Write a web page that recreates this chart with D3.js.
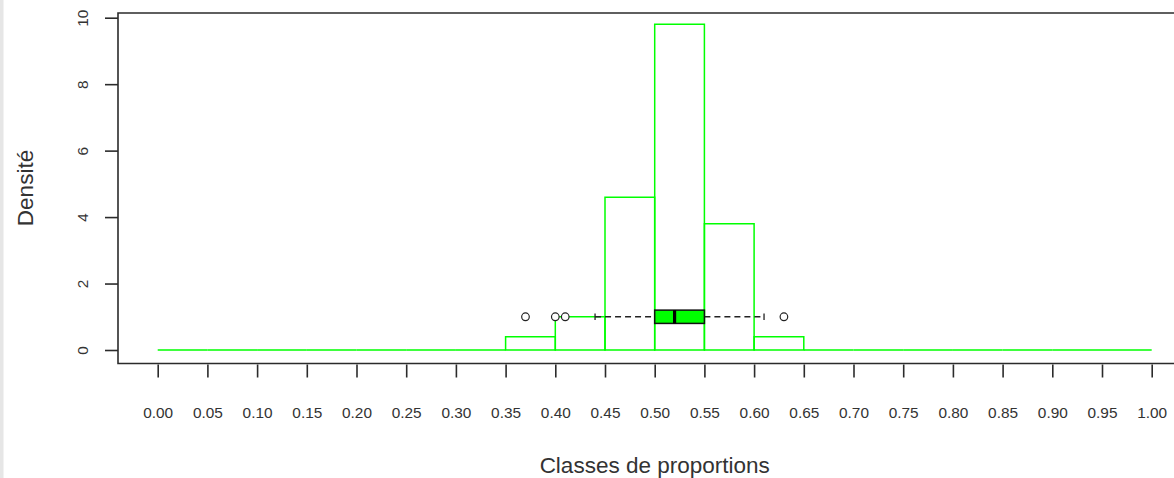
<!DOCTYPE html>
<html>
<head>
<meta charset="utf-8">
<script src="https://cdn.jsdelivr.net/npm/d3@7"></script>
<style>
  html, body { margin: 0; padding: 0; background: #ffffff; }
  svg { display: block; }
  text { font-family: "Liberation Sans", Arial, sans-serif; fill: #333; }
</style>
</head>
<body>
<svg id="chart" width="1174" height="478"></svg>
<script>
// Class limits (proportions) and their axis labels
const classBreaks = [0.00, 0.05, 0.10, 0.15, 0.20, 0.25, 0.30, 0.35, 0.40, 0.45, 0.50,
                     0.55, 0.60, 0.65, 0.70, 0.75, 0.80, 0.85, 0.90, 0.95, 1.00];
const breakLabels = ["0.00", "0.05", "0.10", "0.15", "0.20", "0.25", "0.30", "0.35", "0.40", "0.45", "0.50",
                     "0.55", "0.60", "0.65", "0.70", "0.75", "0.80", "0.85", "0.90", "0.95", "1.00"];
// Density of each class (20 classes)
const densities = [0, 0, 0, 0, 0, 0, 0, 0.4, 1.0, 4.6, 9.8, 3.8, 0.4, 0, 0, 0, 0, 0, 0, 0];
// Density axis ticks
const densityTicks = [0, 2, 4, 6, 8, 10];
// Boxplot summary: lower whisker, Q1, median, Q3, upper whisker
const boxStats = [0.44, 0.50, 0.52, 0.55, 0.61];
const outliers = [0.37, 0.40, 0.41, 0.63];
const boxAt = 1;          // vertical position of the boxplot, in density units
const boxHalf = 0.2;      // half thickness of the box, in density units

const svg = d3.select("#chart");
const W = 1174, H = 478;

const x = d3.scaleLinear().domain([0, 1]).range([157.7, 1151.7]);
const y = d3.scaleLinear().domain([0, 10]).range([350, 17.7]);

const frame = { left: 118, top: 13, bottom: 363.5 };

// narrow grey strip on the left edge
svg.append("rect").attr("x", 0).attr("y", 0).attr("width", 3.5).attr("height", H).attr("fill", "#e6e6e6");

// plot frame (open on the right, beyond the page)
svg.append("path")
  .attr("d", `M${W + 5},${frame.top} H${frame.left} V${frame.bottom} H${W + 5}`)
  .attr("fill", "none").attr("stroke", "#2b2b2b").attr("stroke-width", 1.6);

// histogram bars (outline only)
const bins = densities.map((d, i) => ({ x0: classBreaks[i], x1: classBreaks[i + 1], d }));
svg.append("g").selectAll("path").data(bins).join("path")
  .attr("d", b => `M${x(b.x0)},${y(0)} V${y(b.d)} H${x(b.x1)} V${y(0)} Z`)
  .attr("fill", "none").attr("stroke", "#00ff00").attr("stroke-width", 1.5);

// x axis
const xAxis = d3.axisBottom(x)
  .tickValues(classBreaks)
  .tickFormat((d, i) => breakLabels[i])
  .tickSize(13).tickPadding(0);
const gx = svg.append("g").attr("transform", `translate(0,${frame.bottom + 1})`).call(xAxis);
gx.select(".domain").remove();
gx.selectAll(".tick line").attr("stroke", "#2b2b2b").attr("stroke-width", 1.6);
gx.selectAll(".tick text").attr("y", 53.5).attr("dy", null)
  .attr("dominant-baseline", "alphabetic")
  .style("font-size", "15.4px").style("font-family", "'Liberation Sans', Arial, sans-serif").attr("fill", "#333");

// y axis with rotated labels
const yAxis = d3.axisLeft(y).tickValues(densityTicks).tickSize(13).tickPadding(0);
const gy = svg.append("g").attr("transform", `translate(${frame.left},0)`).call(yAxis);
gy.select(".domain").remove();
gy.selectAll(".tick line").attr("stroke", "#2b2b2b").attr("stroke-width", 1.6);
gy.selectAll(".tick text")
  .attr("x", null).attr("dy", null)
  .attr("transform", "translate(-30,0) rotate(-90)")
  .attr("text-anchor", "middle").attr("dominant-baseline", "alphabetic")
  .style("font-size", "15.4px").style("font-family", "'Liberation Sans', Arial, sans-serif").attr("fill", "#333");

// axis titles
svg.append("text")
  .attr("x", x(0.5)).attr("y", 473)
  .attr("text-anchor", "middle")
  .style("font-size", "22.5px")
  .text("Classes de proportions");
svg.append("text")
  .attr("transform", `translate(32.5,188) rotate(-90)`)
  .attr("text-anchor", "middle")
  .style("font-size", "22.5px")
  .text("Densité");

// horizontal boxplot
const gb = svg.append("g");
const [wLo, q1, med, q3, wHi] = boxStats;
const yc = y(boxAt), yTop = y(boxAt + boxHalf), yBot = y(boxAt - boxHalf);
const sTop = y(boxAt + boxHalf / 2), sBot = y(boxAt - boxHalf / 2);

// whiskers
gb.append("line").attr("x1", x(wLo)).attr("x2", x(q1)).attr("y1", yc).attr("y2", yc)
  .attr("stroke", "#222").attr("stroke-width", 1.3).attr("stroke-dasharray", "6,4");
gb.append("line").attr("x1", x(q3)).attr("x2", x(wHi)).attr("y1", yc).attr("y2", yc)
  .attr("stroke", "#222").attr("stroke-width", 1.3).attr("stroke-dasharray", "6,4");
// staples
[wLo, wHi].forEach(v => {
  gb.append("line").attr("x1", x(v)).attr("x2", x(v)).attr("y1", sTop).attr("y2", sBot)
    .attr("stroke", "#222").attr("stroke-width", 1.3);
});
// box
gb.append("rect")
  .attr("x", x(q1)).attr("y", yTop)
  .attr("width", x(q3) - x(q1)).attr("height", yBot - yTop)
  .attr("fill", "#00ff00").attr("stroke", "#111").attr("stroke-width", 1.5);
// median
gb.append("line").attr("x1", x(med)).attr("x2", x(med)).attr("y1", yTop).attr("y2", yBot)
  .attr("stroke", "#000").attr("stroke-width", 3.2);
// outliers
gb.selectAll("circle").data(outliers).join("circle")
  .attr("cx", d => x(d)).attr("cy", yc).attr("r", 3.8)
  .attr("fill", "#fff").attr("stroke", "#222").attr("stroke-width", 1.2);
</script>
</body>
</html>
